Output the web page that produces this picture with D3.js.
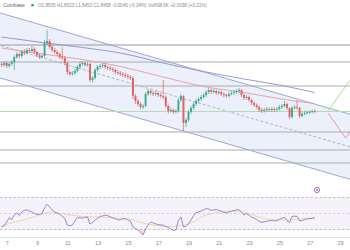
<!DOCTYPE html>
<html><head><meta charset="utf-8">
<script src="https://cdn.jsdelivr.net/npm/d3@7"></script>
<style>html,body{margin:0;padding:0;background:#fff;overflow:hidden}svg{display:block;font-family:"Liberation Sans",Arial,sans-serif}</style>
</head><body><svg id="c" width="350" height="250"></svg>
<script>
// ---------- DATA ----------
const startTime = Date.UTC(2024, 2, 6, 16); // first 4h candle
const stepHours = 4;
const firstOpen = 1.942;
const closes = [1.940,1.944,1.938,1.942,1.946,1.956,1.962,1.958,1.966,1.964,
1.970,1.968,1.972,1.966,1.960,1.956,1.958,1.984,1.988,1.976,
1.970,1.966,1.962,1.956,1.954,1.944,1.926,1.922,1.924,1.928,
1.936,1.942,1.944,1.940,1.942,1.910,1.914,1.930,1.936,1.938,
1.940,1.936,1.934,1.932,1.930,1.926,1.924,1.922,1.920,1.918,
1.916,1.914,1.878,1.868,1.862,1.856,1.858,1.882,1.888,1.884,
1.882,1.884,1.880,1.878,1.876,1.858,1.848,1.850,1.846,1.848,
1.870,1.878,1.824,1.830,1.846,1.854,1.862,1.868,1.872,1.876,
1.880,1.886,1.890,1.886,1.888,1.884,1.886,1.882,1.880,1.878,
1.882,1.884,1.886,1.888,1.890,1.880,1.874,1.876,1.870,1.864,
1.860,1.856,1.850,1.848,1.850,1.852,1.850,1.852,1.850,1.852,
1.856,1.858,1.862,1.854,1.836,1.854,1.856,1.854,1.838,1.842,
1.844,1.846,1.846,1.848,1.846];
const highs = [1.946,1.948,1.947,1.945,1.950,1.959,1.966,1.965,1.970,1.972,
1.974,1.974,1.978,1.975,1.968,1.963,1.962,1.990,2.010,1.992,
1.980,1.974,1.970,1.965,1.976,1.958,1.946,1.929,1.928,1.932,
1.940,1.946,1.948,1.947,1.946,1.944,1.918,1.934,1.940,1.942,
1.944,1.944,1.939,1.938,1.936,1.933,1.930,1.928,1.926,1.924,
1.922,1.920,1.917,1.882,1.872,1.866,1.862,1.886,1.892,1.891,
1.888,1.888,1.887,1.884,1.910,1.879,1.861,1.855,1.853,1.852,
1.874,1.882,1.880,1.834,1.850,1.858,1.866,1.872,1.876,1.880,
1.884,1.890,1.894,1.893,1.892,1.891,1.890,1.889,1.885,1.883,
1.886,1.888,1.890,1.892,1.894,1.892,1.883,1.880,1.879,1.873,
1.867,1.863,1.859,1.854,1.854,1.856,1.855,1.856,1.855,1.856,
1.860,1.862,1.868,1.865,1.856,1.858,1.860,1.870,1.856,1.846,
1.848,1.849,1.849,1.851,1.851];
const lows = [1.936,1.937,1.934,1.935,1.939,1.930,1.952,1.954,1.955,1.960,
1.961,1.964,1.965,1.962,1.956,1.952,1.953,1.955,1.980,1.972,
1.966,1.962,1.958,1.952,1.950,1.940,1.920,1.918,1.918,1.920,
1.925,1.932,1.938,1.936,1.937,1.906,1.905,1.911,1.927,1.932,
1.934,1.932,1.930,1.928,1.926,1.922,1.920,1.918,1.916,1.914,
1.912,1.910,1.872,1.862,1.857,1.851,1.852,1.855,1.878,1.880,
1.878,1.879,1.876,1.874,1.872,1.854,1.843,1.845,1.842,1.843,
1.845,1.866,1.808,1.816,1.826,1.842,1.850,1.858,1.864,1.868,
1.872,1.876,1.882,1.882,1.883,1.880,1.880,1.878,1.876,1.874,
1.875,1.879,1.880,1.882,1.884,1.876,1.870,1.870,1.866,1.860,
1.856,1.852,1.846,1.844,1.845,1.846,1.846,1.846,1.846,1.847,
1.849,1.852,1.855,1.850,1.832,1.833,1.851,1.850,1.834,1.835,
1.839,1.841,1.842,1.843,1.843];
const rsi = [33.4,34.6,39.4,44.4,42.5,48.0,50.6,47.5,51.9,54.0,
54.5,53.1,51.9,50.2,48.8,49.1,50.0,57.3,61.5,58.1,
54.4,51.5,50.5,49.0,46.5,43.9,35.6,34.6,35.6,40.6,
45.0,44.6,44.1,45.3,45.6,36.9,38.9,41.8,44.0,46.3,
47.0,47.9,47.3,46.0,44.6,43.3,42.0,42.5,43.3,43.5,
41.9,40.5,33.0,31.3,29.4,25.9,23.1,30.5,36.0,39.1,
38.3,37.1,36.1,35.9,35.3,34.0,32.5,30.6,28.8,29.4,
41.3,45.6,33.4,33.8,37.5,41.9,47.3,51.0,52.0,53.1,
54.6,56.1,55.6,53.9,54.4,54.9,54.0,53.0,51.6,50.9,
51.9,53.0,53.8,54.4,54.8,51.3,48.3,49.9,47.9,45.1,
44.3,42.5,40.1,39.0,39.6,40.4,41.0,41.1,40.8,41.1,
42.9,44.1,45.1,41.5,38.6,46.3,46.6,46.4,41.1,41.1,
42.6,43.3,43.8,44.0,44.4];
const rsiMaIdx = [0,5,10,15,20,25,30,35,40,45,50,55,60,65,70,75,80,85,90,95,100,105,110,115,120,124];
const rsiMa = [34.4,39.4,43.1,48.1,51.9,49.0,46.9,45.8,45.4,44.4,43.5,39.0,35.6,33.8,34.4,38.1,46.9,50.9,53.1,52.5,47.5,43.1,41.9,42.4,43.4,44.4];
const maIdx = [0,16,32,48,64,80,96,112,124];
const maSlow = [1.996,1.985,1.975,1.963,1.944,1.927,1.912,1.898,1.885];
const maFast = [1.974,1.962,1.951,1.936,1.916,1.897,1.885,1.871,1.863];
const levels = [1.980,1.946,1.898,1.806,1.770,1.744];
const lastPrice = 1.847;
const channelTimes = [Date.UTC(2024,2,6,0), Date.UTC(2024,2,30,12)];
const channelTop = [2.049, 1.834];
const channelBottom = [1.919, 1.704];
const projUpTimes = [Date.UTC(2024,2,28,5), Date.UTC(2024,2,29,16)];
const projUpPrices = [1.848, 1.910];
const projDownTimes = [Date.UTC(2024,2,28,5), Date.UTC(2024,2,29,9), Date.UTC(2024,2,29,16)];
const projDownPrices = [1.844, 1.794, 1.806];
const tickDays = [7,9,11,13,15,17,19,21,23,25,27,29];
const headerSource = "· Coinbase";
const headerValues = "O1.8505 H1.8523 L1.8453 C1.8458 -0.0045 (-0.24%) Vol698.6K +0.0038 (+0.21%)";

// ---------- CHART ----------
const svg = d3.select("#c");
const H = 3600e3;
const x = d3.scaleUtc().domain([new Date(Date.UTC(2024,2,7)), new Date(Date.UTC(2024,2,29))]).range([6.7, 340]);
const y = d3.scaleLinear().domain([1.70, 2.05]).range([185, 10]);
const r = d3.scaleLinear().domain([30, 70]).range([229.5, 197.5]);
const tc = i => new Date(startTime + i * stepHours * H);

const defs = svg.append("defs");
defs.append("clipPath").attr("id","mainClip").append("rect").attr("x",0).attr("y",9).attr("width",350).attr("height",181);
const main = svg.append("g").attr("clip-path","url(#mainClip)");

// channel
const ch = [0,1];
main.append("path").datum(ch)
  .attr("d", d3.area().x(i=>x(new Date(channelTimes[i]))).y0(i=>y(channelBottom[i])).y1(i=>y(channelTop[i])))
  .attr("fill","#ebf0fa");
const lineCh = arr => d3.line().x(i=>x(new Date(channelTimes[i]))).y(i=>y(arr[i]));
main.append("path").datum(ch).attr("d", lineCh(channelTop)).attr("fill","none").attr("stroke","#8f9fd2").attr("stroke-width",0.9);
main.append("path").datum(ch).attr("d", lineCh(channelBottom)).attr("fill","none").attr("stroke","#8f9fd2").attr("stroke-width",0.9);
const channelMid = channelTop.map((v,i)=>(v+channelBottom[i])/2);
main.append("path").datum(ch).attr("d", lineCh(channelMid)).attr("fill","none").attr("stroke","#9da6bd").attr("stroke-width",0.8).attr("stroke-dasharray","3,2");

// levels
main.selectAll("line.lvl").data(levels).join("line").attr("class","lvl")
  .attr("x1",0).attr("x2",350).attr("y1",d=>y(d)).attr("y2",d=>y(d))
  .attr("stroke",(d,i)=>i===0?"#9a9a9a":"#ababab").attr("stroke-width",1.1);
main.append("line").attr("x1",0).attr("x2",350).attr("y1",y(lastPrice)).attr("y2",y(lastPrice))
  .attr("stroke","#b9dcae").attr("stroke-width",1);

// moving averages
const maLine = arr => d3.line().curve(d3.curveMonotoneX).x((d,k)=>x(tc(maIdx[k]))).y((d,k)=>y(arr[k]));
main.append("path").datum(maSlow).attr("d", maLine(maSlow)).attr("fill","none").attr("stroke","#8a90cc").attr("stroke-width",0.9);
main.append("path").datum(maFast).attr("d", maLine(maFast)).attr("fill","none").attr("stroke","#e79aa6").attr("stroke-width",0.9);

// projections
main.append("path").datum(projUpTimes).attr("d", d3.line().x(d=>x(new Date(d))).y((d,k)=>y(projUpPrices[k])))
  .attr("fill","none").attr("stroke","#a9d493").attr("stroke-width",0.9);
main.append("path").datum(projDownTimes).attr("d", d3.line().x(d=>x(new Date(d))).y((d,k)=>y(projDownPrices[k])))
  .attr("fill","none").attr("stroke","#e8919a").attr("stroke-width",0.9);

// candles
const candles = closes.map((c,i)=>({t:tc(i), o: i===0?firstOpen:closes[i-1], c, h:highs[i], l:lows[i]}));
const up = "#3fa88e", dn = "#e2605d";
const cg = main.append("g");
cg.selectAll("line").data(candles).join("line")
  .attr("x1",d=>x(d.t)).attr("x2",d=>x(d.t)).attr("y1",d=>y(d.h)).attr("y2",d=>y(d.l))
  .attr("stroke",d=>d.c>=d.o?up:dn).attr("stroke-width",0.7);
cg.selectAll("rect").data(candles).join("rect")
  .attr("x",d=>x(d.t)-0.95).attr("width",1.9)
  .attr("y",d=>y(Math.max(d.o,d.c))).attr("height",d=>Math.max(0.7, Math.abs(y(d.o)-y(d.c))))
  .attr("fill",d=>d.c>=d.o?up:dn);

// header
svg.append("text").attr("x",0).attr("y",7).attr("font-size",5.6).attr("fill","#666")
  .attr("textLength",25).attr("lengthAdjust","spacingAndGlyphs").text(headerSource);
svg.append("circle").attr("cx",32.5).attr("cy",5.2).attr("r",1.4).attr("fill","#26a69a");
svg.append("text").attr("x",38).attr("y",7).attr("font-size",5.6).attr("fill","#8a8a8a")
  .attr("textLength",169).attr("lengthAdjust","spacingAndGlyphs").text(headerValues);

// RSI pane
svg.append("rect").attr("x",0).attr("width",350).attr("y",r(70)).attr("height",r(30)-r(70)).attr("fill","#7e57c2").attr("fill-opacity",0.08);
svg.selectAll("line.rl").data([70,50,30]).join("line").attr("class","rl")
  .attr("x1",0).attr("x2",350).attr("y1",d=>r(d)).attr("y2",d=>r(d))
  .attr("stroke","#b6a7dc").attr("stroke-opacity",d=>d===50?0.6:1).attr("stroke-width",0.8).attr("stroke-dasharray","2.5,2");
svg.append("path").datum(rsi)
  .attr("d", d3.area().x((d,i)=>x(tc(i))).y0(r(30)).y1(d=>r(Math.min(d,30))))
  .attr("fill","#f28b9b").attr("fill-opacity",0.35);
svg.append("path").datum(rsiMa)
  .attr("d", d3.line().curve(d3.curveMonotoneX).x((d,k)=>x(tc(rsiMaIdx[k]))).y(d=>r(d)))
  .attr("fill","none").attr("stroke","#f2d199").attr("stroke-width",0.9);
svg.append("path").datum(rsi)
  .attr("d", d3.line().x((d,i)=>x(tc(i))).y(d=>r(d)))
  .attr("fill","none").attr("stroke","#8e7cc9").attr("stroke-width",0.9);

// alert icon
svg.append("circle").attr("cx",317).attr("cy",190).attr("r",2.6).attr("fill","#fff").attr("stroke","#a05bc4").attr("stroke-width",0.9);
svg.append("circle").attr("cx",317).attr("cy",190).attr("r",0.9).attr("fill","#a05bc4");

// bottom separator + axis
svg.append("line").attr("x1",0).attr("x2",350).attr("y1",237.5).attr("y2",237.5).attr("stroke","#e2e4ea").attr("stroke-width",1);
const ax = svg.append("g").attr("transform","translate(0,238)")
  .call(d3.axisBottom(x).tickValues(tickDays.map(d=>new Date(Date.UTC(2024,2,d)))).tickFormat(d3.utcFormat("%-d")).tickSize(0).tickPadding(3));
ax.select(".domain").remove();
ax.selectAll("text").attr("font-size",5.5).attr("fill","#888").attr("font-family","Liberation Sans, Arial, sans-serif");
</script></body></html>
